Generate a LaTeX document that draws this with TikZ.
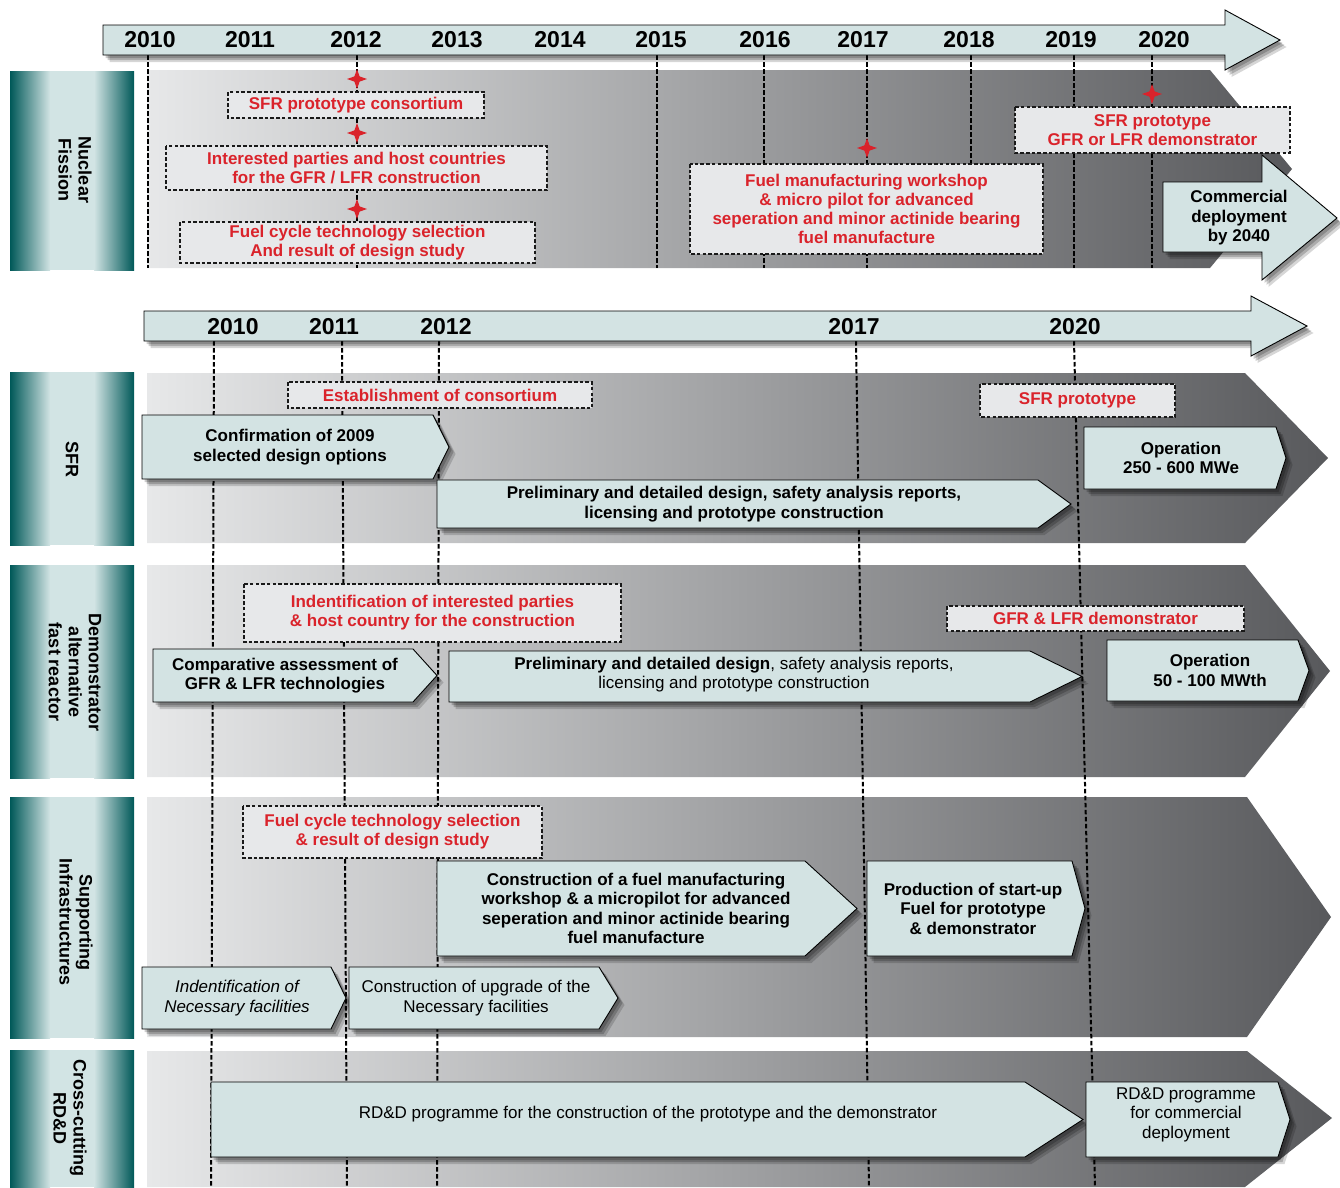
\documentclass[tikz,border=0pt]{standalone}
\usepackage{fontspec}
\setmainfont{Liberation Sans}
\usetikzlibrary{calc}
\definecolor{boxfill}{RGB}{211,227,227}
\definecolor{dashfill}{RGB}{231,232,234}
\definecolor{nred}{RGB}{218,35,43}
\definecolor{bandL}{RGB}{231,232,233}
\definecolor{bandR}{RGB}{88,89,92}
\definecolor{tdark}{RGB}{0,88,88}
\definecolor{tlight}{RGB}{210,228,228}
\newcommand{\abox}[9]{%
  \path[arrowbox] (#2,#3) -- (#4,#3) -- (#5,{(#3+#6)/2}) -- (#4,#6) -- (#2,#6) -- cycle;
  \node[#8] (#1) at (#7,{(#3+#6)/2}) {#9};}
\newcommand{\redbox}[6]{%
  \path[dbox] (#2,#3) rectangle (#4,#5);
  \node[redt] (#1) at ({(#2+#4)/2},{(#3+#5)/2}) {#6};}
\newcommand{\labelbar}[2]{%
  \path[left color=tdark, right color=tlight] (10,#1) rectangle (50,#2);
  \fill[tlight] (49.5,#1) rectangle (94.5,#2);
  \path[left color=tlight, right color=tdark] (94,#1) rectangle (134,#2);}
\newcommand{\fstar}[2]{%
  \fill[nred, shift={(#1,#2)}] (0,-10) -- (2.6,-2.6) -- (10,0) -- (2.6,2.6) -- (0,10) -- (-2.6,2.6) -- (-10,0) -- (-2.6,-2.6) -- cycle;}
\begin{document}
\begin{tikzpicture}[x=1pt,y=-1pt,
  boxsh/.style={preaction={fill=black,opacity=.2,transform canvas={shift={(2.5pt,-3pt)}}},
                preaction={fill=black,opacity=.2,transform canvas={shift={(4.5pt,-5pt)}}},
                preaction={fill=black,opacity=.16,transform canvas={shift={(6.5pt,-7pt)}}}},
  arrowbox/.style={boxsh, fill=boxfill, draw=black, line width=0.9pt, line join=miter},
  dbox/.style={fill=dashfill, draw=black!90, line width=1.1pt, dash pattern=on 3.5pt off 2.2pt},
  redt/.style={text=nred, font=\bfseries\fontsize{17}{19}\selectfont, align=center, inner sep=0pt},
  bt/.style={font=\bfseries\fontsize{17}{19.5}\selectfont, align=center, inner sep=0pt},
  rt/.style={font=\fontsize{17}{19.5}\selectfont, align=center, inner sep=0pt},
  it/.style={font=\itshape\fontsize{17}{19.5}\selectfont, align=center, inner sep=0pt},
  yr/.style={font=\bfseries\fontsize{23}{25}\selectfont, inner sep=0pt},
  lbl/.style={font=\bfseries\fontsize{18}{20}\selectfont, align=center, rotate=-90, inner sep=0pt},
  vline/.style={draw=black, line width=2pt, dash pattern=on 4.5pt off 2.5pt}]
\useasboundingbox (0,0) rectangle (1340,1187);

% ---------- label bars ----------
\labelbar{71}{270}
\labelbar{372}{545}
\labelbar{565}{778}
\labelbar{797}{1038}
\labelbar{1050}{1187}
\node[lbl] (lnf) at (75,170) {Nuclear\\Fission};
\node[lbl] (lsfr) at (72,459) {SFR};
\node[lbl] (ldemo) at (75,672) {Demonstrator\\alternative\\fast reactor};
\node[lbl] (lsup) at (76,922) {Supporting\\Infrastructures};
\node[lbl] (lcross) at (70,1118) {Cross-cutting\\RD\&D};

% ---------- bands ----------
\path[left color=bandL, right color=bandR] (147,70) -- (1210,70) -- (1292,169) -- (1210,268) -- (147,268) -- cycle;
\path[left color=bandL, right color=bandR] (147,373) -- (1245,373) -- (1328,458) -- (1245,543) -- (147,543) -- cycle;
\path[left color=bandL, right color=bandR] (147,565) -- (1245,565) -- (1330,671) -- (1245,777) -- (147,777) -- cycle;
\path[left color=bandL, right color=bandR] (147,797) -- (1247,797) -- (1331,917) -- (1247,1037) -- (147,1037) -- cycle;
\path[left color=bandL, right color=bandR] (147,1051) -- (1247,1051) -- (1332,1118) -- (1245,1187) -- (147,1187) -- cycle;

% ---------- dashed year lines ----------
\foreach \x in {148,357,657,764,867,1074,1152} \draw[vline] (\x,55) -- (\x,268);
\draw[vline] (971,55) -- (971,164);
\draw[vline] (214,341) -- (211,1187);
\draw[vline] (342,341) -- (347,1187);
\draw[vline] (439,341) -- (437,1187);
\draw[vline] (856,341) -- (869,1187);
\draw[vline] (1074,341) -- (1095,1187);

% ---------- year arrows ----------
\path[arrowbox] (103,25) -- (1225,25) -- (1225,10) -- (1280,40) -- (1225,70) -- (1225,55) -- (103,55) -- cycle;
\foreach \x/\y in {150/2010,250/2011,356/2012,457/2013,560/2014,661/2015,765/2016,863/2017,969/2018,1071/2019,1164/2020}
  \node[yr] (ta\y) at (\x,40) {\y};
\path[arrowbox] (144,311) -- (1251,311) -- (1251,296) -- (1307,326) -- (1251,356) -- (1251,341) -- (144,341) -- cycle;
\foreach \x/\y in {233/2010,334/2011,446/2012,854/2017,1075/2020}
  \node[yr] (tb\y) at (\x,327) {\y};

% ---------- top section ----------
\redbox{d1}{228}{92}{484}{118}{SFR prototype consortium}
\redbox{d2}{166}{146}{547}{190}{Interested parties and host countries\\for the GFR / LFR construction}
\redbox{d3}{180}{222}{535}{263}{Fuel cycle technology selection\\And result of design study}
\redbox{d4}{690}{164}{1043}{254}{Fuel manufacturing workshop\\\& micro pilot for advanced\\seperation and minor actinide bearing\\fuel manufacture}
\redbox{d5}{1015}{107}{1290}{153}{SFR prototype\\GFR or LFR demonstrator}
\fstar{357}{79}
\fstar{357}{133}
\fstar{357}{209}
\fstar{867}{148}
\fstar{1152}{94}
\path[arrowbox] (1163,182) -- (1262,182) -- (1262,155) -- (1337,218) -- (1262,280) -- (1262,252) -- (1163,252) -- cycle;
\node[bt] (comm) at (1239,218) {Commercial\\deployment\\by 2040};

% ---------- SFR ----------
\redbox{e1}{288}{382}{592}{408}{Establishment of consortium}
\redbox{e2}{980}{384}{1175}{417}{SFR prototype}
\abox{conf}{142}{415}{433}{449}{479}{290}{bt}{Confirmation of 2009\\selected design options}
\abox{prel1}{437}{480}{1038}{1071}{528}{734}{bt}{Preliminary and detailed design, safety analysis reports,\\licensing and prototype construction}
\abox{op1}{1084}{427}{1276}{1286}{489}{1181}{bt}{Operation\\250 - 600 MWe}

% ---------- Demonstrator ----------
\redbox{e3}{244}{584}{621}{642}{Indentification of interested parties\\\& host country for the construction}
\redbox{e4}{947}{606}{1244}{631}{GFR \& LFR demonstrator}
\abox{comp}{153}{649}{413}{437}{702}{285}{bt}{Comparative assessment of\\GFR \& LFR technologies}
\abox{prel2}{449}{651}{1030}{1082}{702}{734}{rt, yshift=2pt}{\textbf{Preliminary and detailed design}, safety analysis reports,\\licensing and prototype construction}
\abox{op2}{1107}{640}{1298}{1309}{701}{1210}{bt}{Operation\\50 - 100 MWth}

% ---------- Supporting ----------
\redbox{e5}{243}{806}{542}{858}{Fuel cycle technology selection\\\& result of design study}
\abox{cfuel}{437}{861}{805}{857}{956}{636}{bt}{Construction of a fuel manufacturing\\workshop \& a micropilot for advanced\\seperation and minor actinide bearing\\fuel manufacture}
\abox{prod}{867}{861}{1072}{1085}{956}{973}{bt}{Production of start-up\\Fuel for prototype\\\& demonstrator}
\abox{ident}{142}{967}{331}{346}{1029}{237}{it}{Indentification of\\Necessary facilities}
\abox{upg}{349}{967}{599}{618}{1029}{476}{rt}{Construction of upgrade of the\\Necessary facilities}

% ---------- Cross-cutting ----------
\abox{rdd1}{211}{1082}{1025}{1083}{1157}{648}{rt, yshift=5pt}{RD\&D programme for the construction of the prototype and the demonstrator}
\abox{rdd2}{1086}{1082}{1278}{1290}{1157}{1186}{rt, yshift=5pt}{RD\&D programme\\for commercial\\deployment}
\end{tikzpicture}
\end{document}
